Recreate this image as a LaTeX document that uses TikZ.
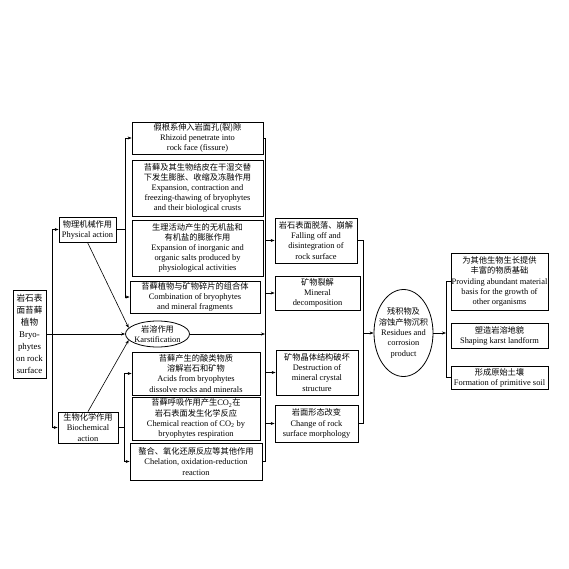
\documentclass[tikz,border=0pt]{standalone}
\usepackage{fontspec}
\setmainfont{Liberation Serif}
\newfontfamily\cjk[Scale=0.98]{Noto Sans CJK SC}
\usetikzlibrary{arrows.meta,shapes.geometric}
\newcommand\zhtext[1]{{\cjk #1}}
\begin{document}
\begin{tikzpicture}[x=1pt,y=-1pt,
  bx/.style n args={2}{draw, line width=0.8pt, align=center, inner sep=0pt,
    minimum width=#1, minimum height=#2, font=\fontsize{8.4}{10.1}\selectfont},
  ell/.style n args={2}{ellipse, draw, line width=0.8pt, inner sep=0pt,
    minimum width=#1, minimum height=#2},
  lbl/.style={align=center, font=\fontsize{8.4}{10.3}\selectfont, inner sep=0pt},
  ln/.style={line width=0.6pt},
  ar/.style={line width=0.6pt, -{Stealth[length=4pt,width=3pt]}}]
\fill[white] (0,0) rectangle (569,569);
\useasboundingbox (0,0) rectangle (569,569);

% left column
\node[bx={33pt}{88pt}, font=\fontsize{8.8}{12}\selectfont] (plant) at (29.5,334)
  {\zhtext{岩石表}\\\zhtext{面苔藓}\\\zhtext{植物}\\Bryo-\\phytes\\on rock\\surface};
\node[bx={57pt}{25pt}] (phys) at (87.5,229.5) {\zhtext{物理机械作用}\\Physical action};
\node[bx={60pt}{31pt}] (bio) at (88,427.5) {\zhtext{生物化学作用}\\Biochemical\\action};
\node[ell={64pt}{26pt}, label={[lbl]center:{\zhtext{岩溶作用}\\Karstification}}] (karst) at (157.5,334) {};

% middle column
\node[bx={131pt}{32pt}] (a) at (197.5,138)
  {\zhtext{假根系伸入岩面孔(裂)隙}\\Rhizoid penetrate into\\rock face (fissure)};
\node[bx={131pt}{56pt}] (b) at (197.5,188)
  {\zhtext{苔藓及其生物结皮在干湿交替}\\\zhtext{下发生膨胀、收缩及冻融作用}\\Expansion, contraction and\\freezing-thawing of bryophytes\\and their biological crusts};
\node[bx={131pt}{56pt}] (c) at (197.5,248)
  {\zhtext{生理活动产生的无机盐和}\\\zhtext{有机盐的膨胀作用}\\Expansion of inorganic and\\organic salts produced by\\physiological activities};
\node[bx={130pt}{32pt}] (d) at (195,297)
  {\zhtext{苔藓植物与矿物碎片的组合体}\\Combination of bryophytes\\and mineral fragments};
\node[bx={128pt}{43pt}] (e) at (196,373.5)
  {\zhtext{苔藓产生的酸类物质}\\\zhtext{溶解岩石和矿物}\\Acids from bryophytes\\dissolve rocks and minerals};
\node[bx={128pt}{43pt}] (f) at (196,418.5)
  {\zhtext{苔藓呼吸作用产生}CO\textsubscript{2}\zhtext{在}\\\zhtext{岩石表面发生化学反应}\\Chemical reaction of CO\textsubscript{2} by\\bryophytes respiration};
\node[bx={132pt}{37pt}] (g) at (196,461.5)
  {\zhtext{螯合、氧化还原反应等其他作用}\\Chelation, oxidation-reduction\\reaction};

% right-middle column
\node[bx={82pt}{45pt}] (h) at (316,240.5)
  {\zhtext{岩石表面脱落、崩解}\\Falling off and\\disintegration of\\rock surface};
\node[bx={85pt}{34pt}] (i) at (317.5,293) {\zhtext{矿物裂解}\\Mineral\\decomposition};
\node[bx={82pt}{45pt}] (j) at (317,372.5)
  {\zhtext{矿物晶体结构破坏}\\Destruction of\\mineral crystal\\structure};
\node[bx={83pt}{37pt}] (k) at (316.5,423.5) {\zhtext{岩面形态改变}\\Change of rock\\surface morphology};

\node[ell={59pt}{87pt}, label={[lbl]center:{\zhtext{残积物及}\\\zhtext{溶蚀产物沉积}\\Residues and\\corrosion\\product}}] (res) at (403.5,333) {};

% right column
\node[bx={97pt}{57pt}] (l) at (499.5,281.5)
  {\zhtext{为其他生物生长提供}\\\zhtext{丰富的物质基础}\\Providing abundant material\\basis for the growth of\\other organisms};
\node[bx={97pt}{25pt}] (m) at (499.5,335.5) {\zhtext{塑造岩溶地貌}\\Shaping karst landform};
\node[bx={97pt}{23pt}] (n) at (499.5,377.5) {\zhtext{形成原始土壤}\\Formation of primitive soil};

% connectors: left
\coordinate (lv1) at (52,229.5);
\coordinate (lv2) at (52,427.5);
\draw[ln] (lv1) -- (lv2);
\draw[ar] (lv1) -- (phys.west);
\draw[ar] (lv2) -- (bio.west);
\draw[ar] (plant.east) -- (karst.west);
\draw[ar] (phys.south) -- (karst.168);
\draw[ar] (bio.north) -- (karst.192);

% physical bracket
\coordinate (pa) at (125,138);
\coordinate (pd) at (125,297);
\draw[ln] (phys.east) -- (phys.east -| pa);
\draw[ln] (pa) -- (pd);
\draw[ar] (pa) -- (a.west);
\draw[ar] (pd) -- (d.west);

% biochemical bracket
\coordinate (be) at (124,373.5);
\coordinate (bg) at (124,461.5);
\draw[ln] (bio.east) -- (bio.east -| be);
\draw[ln] (be) -- (bg);
\draw[ar] (be) -- (e.west);
\draw[ar] (bg) -- (g.west);

% collecting line x=265
\coordinate (ra) at (265,138);
\coordinate (rg) at (265,461.5);
\draw[ln] (a.east) -- (ra) -- (rg) -- (g.east);
\draw[ar] (karst.east) -- (karst.east -| ra);
\coordinate (rh) at (265,240.5);
\coordinate (ri) at (265,293);
\coordinate (rj) at (265,372.5);
\coordinate (rk) at (265,423.5);
\draw[ar] (rh) -- (h.west);
\draw[ar] (ri) -- (i.west);
\draw[ar] (rj) -- (j.west);
\draw[ar] (rk) -- (k.west);

% collecting line x=363
\coordinate (sh) at (363,240.5);
\coordinate (sk) at (363,423.5);
\coordinate (sm) at (363,333);
\draw[ln] (h.east) -- (sh) -- (sk) -- (k.east);
\draw[ar] (sm) -- (res.west);

% output bracket x=446
\coordinate (tl) at (446,281.5);
\coordinate (tn) at (446,377.5);
\draw[ln] (l.west) -- (tl) -- (tn) -- (n.west);
\draw[ar] (res.east) -- (res.east -| tl);
\end{tikzpicture}
\end{document}
